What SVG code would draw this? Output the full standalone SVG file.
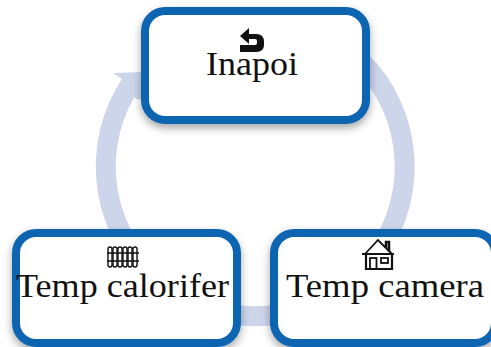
<svg xmlns="http://www.w3.org/2000/svg" width="491" height="347" viewBox="0 0 491 347">
<style>
.box{fill:#fff;stroke:#1065B2;stroke-width:8;filter:url(#sh)}
.t{font-family:"Liberation Serif",serif;font-size:34px;fill:#111}
.ring{fill:none;stroke:#CDD5EA;stroke-width:20}
.ic{fill:none;stroke:#111}
</style>
<defs>
<filter id="sh" x="-10%" y="-10%" width="120%" height="125%"><feDropShadow dx="0" dy="4" stdDeviation="4" flood-color="#000" flood-opacity="0.35"/></filter>
</defs>
<rect width="491" height="347" fill="#fff"/>
<g id="connectors">
<path class="ring" d="M360 60A149.5 149.5 0 1 1 132 82"/>
<polygon points="113,73 145,72 145,100 136,99 122,79" fill="#CDD5EA"/>
</g>
<g id="node-inapoi">
<rect class="box" x="145" y="11" width="221" height="109" rx="20"/>
<path d="M240 36L249 28V34H256Q264 34 264 42V45Q264 52 256 52H240V45H255Q257 45 257 43V41Q257 39 255 39H249V44Z" fill="#111"/>
<text class="t" x="206" y="75" textLength="92" lengthAdjust="spacingAndGlyphs">Inapoi</text>
</g>
<g id="node-temp-calorifer">
<rect class="box" x="16" y="233" width="221" height="110" rx="20"/>
<g class="ic" stroke-width="1.4">
<rect x="108" y="247" width="4" height="20" rx="2"/>
<rect x="113" y="247" width="4" height="20" rx="2"/>
<rect x="118" y="247" width="4" height="20" rx="2"/>
<rect x="123" y="247" width="4" height="20" rx="2"/>
<rect x="128" y="247" width="4" height="20" rx="2"/>
<rect x="133" y="247" width="4" height="20" rx="2"/>
<path d="M107 253H139M107 261H139"/>
</g>
<text class="t" x="16" y="297" textLength="213" lengthAdjust="spacingAndGlyphs">Temp calorifer</text>
</g>
<g id="node-temp-camera">
<rect class="box" x="274" y="233" width="221" height="110" rx="20"/>
<g class="ic" stroke-width="1.8">
<path d="M365 254L378 240L392 254M362 254H394"/>
<path d="M366 254V269H392V254M365 269H393" stroke-width="2.2"/>
<path d="M386 248V242H389V252" stroke-width="2.5"/>
<rect x="370" y="258" width="6.500" height="11"/>
<rect x="381" y="258" width="7" height="5"/>
</g>
<text class="t" x="286" y="297" textLength="198" lengthAdjust="spacingAndGlyphs">Temp camera</text>
</g>
</svg>
